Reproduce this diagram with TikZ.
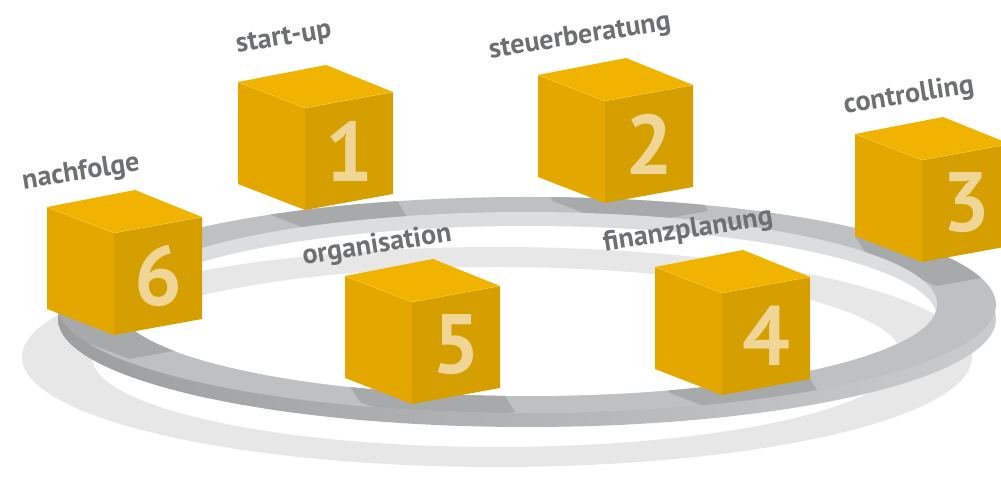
\documentclass[tikz,border=0pt]{standalone}
\usepackage{fontspec}
\setmainfont{PT Sans}
\usepackage{xcolor}
\usepackage{tikz}
\usetikzlibrary{positioning,calc}

\definecolor{goldtop}{HTML}{EFB300}
\definecolor{goldleft}{HTML}{E4A700}
\definecolor{goldright}{HTML}{D69F00}
\definecolor{goldedge}{HTML}{F6CC55}
\definecolor{goldnum}{HTML}{EFD696}
\definecolor{labelgray}{HTML}{6E6F71}
\definecolor{ringtopc}{HTML}{BEC0C2}
\definecolor{ringinnerc}{HTML}{DCDDDE}
\definecolor{ringwallL}{HTML}{9C9EA0}
\definecolor{ringwallR}{HTML}{CACBCD}
\definecolor{floorshadow}{HTML}{E7E7E7}
\definecolor{cubeshadow}{HTML}{A7A9AB}

% cube: top left corner x, y, number
\newcommand{\goldcube}[3]{%
	\begin{scope}[shift={(#1,#2)}]
		\fill[goldleft] (0,0) -- (67,26) -- (67,128) -- (0,102) -- cycle;
		\fill[goldright] (67,26) -- (155,10) -- (155,112) -- (67,128) -- cycle;
		\fill[goldtop] (0,0) -- (88,-17) -- (155,10) -- (67,26) -- cycle;
		\draw[goldedge, very thin] (0,0) -- (67,26) -- (155,10);
		\node[cubenum] (num#3) at (111,69) {#3};
	\end{scope}}

% shadow of a cube on the ring
\newcommand{\cubeshade}[2]{%
	\begin{scope}[shift={(#1,#2)}]
		\fill[cubeshadow] (0,102) -- (15,126) -- (82,152) -- (170,136) -- (155,112) -- (88,85) -- cycle;
	\end{scope}}

\begin{document}
\begin{tikzpicture}[x=0.02cm, y=-0.02cm,
	cubenum/.style = {font=\bfseries\fontsize{48}{48}\selectfont, text=goldnum, inner sep=0pt},
	cubelabel/.style = {font=\bfseries\fontsize{16}{16}\selectfont, text=labelgray, rotate=9, inner sep=0pt}]
					\useasboundingbox (0,0) rectangle (1001,489);

					% Schatten am Boden
					\fill[floorshadow, even odd rule] (497,357) ellipse [x radius=475, y radius=110] (497,357) ellipse [x radius=405, y radius=90];

					% Ring
					\shade[left color=ringwallL, right color=ringwallR] (527,319) ellipse [x radius=469, y radius=108];
					\fill[ringtopc] (527,305) ellipse [x radius=469, y radius=108];
					\fill[ringinnerc] (527,304) ellipse [x radius=410, y radius=92];
					\begin{scope}
						\clip (527,304) ellipse [x radius=410, y radius=92];
						\clip (527,318) ellipse [x radius=410, y radius=92];
						\fill[white] (0,0) rectangle (1001,489);
						\fill[floorshadow, even odd rule] (497,357) ellipse [x radius=475, y radius=110] (497,357) ellipse [x radius=405, y radius=90];
					\end{scope}

					% Schatten der Wuerfel
					\begin{scope}[even odd rule]
						\clip (527,305) ellipse [x radius=469, y radius=108] (527,304) ellipse [x radius=410, y radius=92];
						\cubeshade{238}{82}
						\cubeshade{538}{75}
						\cubeshade{855}{134}
						\cubeshade{47}{207}
						\cubeshade{345}{276}
						\cubeshade{655}{267}
					\end{scope}

					% Wuerfel
					\goldcube{238}{82}{1}
					\goldcube{538}{75}{2}
					\goldcube{855}{134}{3}
					\goldcube{47}{207}{6}
					\goldcube{345}{276}{5}
					\goldcube{655}{267}{4}

					% Beschriftung
					\node[cubelabel] (startup) at (284,39) {start-up};
					\node[cubelabel] (steuer) at (580,37) {steuerberatung};
					\node[cubelabel] (control) at (909,96) {controlling};
					\node[cubelabel] (nachfolge) at (81,173) {nachfolge};
					\node[cubelabel] (orga) at (377,246) {organisation};
					\node[cubelabel] (finanz) at (688,231) {finanzplanung};

				\end{tikzpicture}
\end{document}
